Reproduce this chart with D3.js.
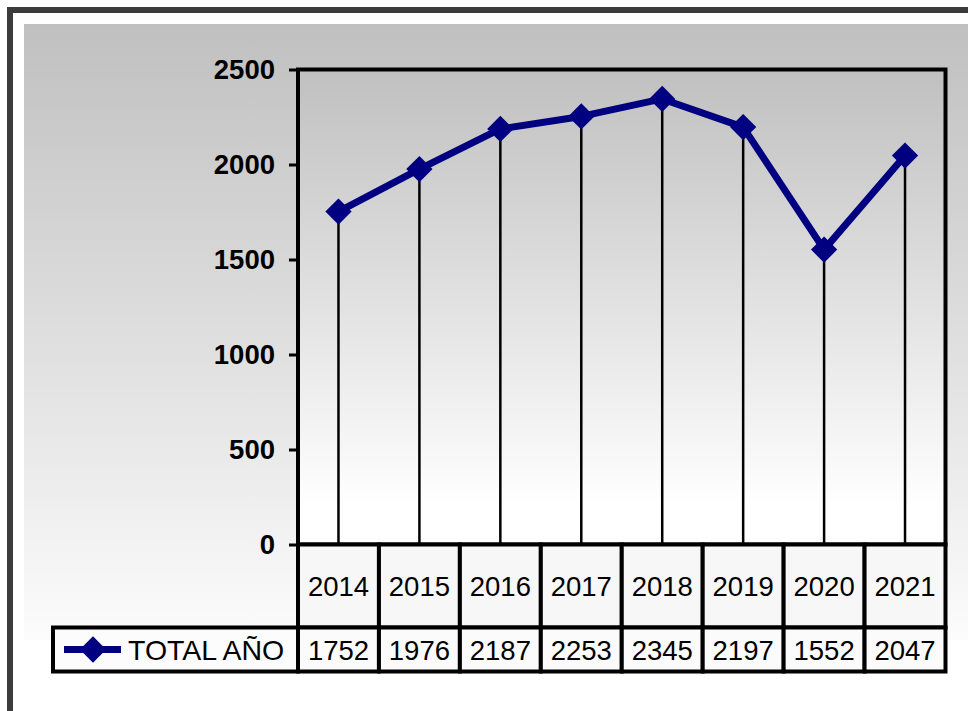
<!DOCTYPE html>
<html>
<head>
<meta charset="utf-8">
<script src="https://cdn.jsdelivr.net/npm/d3@7"></script>
<style>
  body { margin: 0; background: #fff; }
  svg { display: block; font-family: "Liberation Sans", Arial, sans-serif; }
</style>
</head>
<body>
<script>
// data
var years = ["2014", "2015", "2016", "2017", "2018", "2019", "2020", "2021"];
var totals = [1752, 1976, 2187, 2253, 2345, 2197, 1552, 2047];
var yTicks = [0, 500, 1000, 1500, 2000, 2500];
var seriesName = "TOTAL AÑO";

var W = 968, H = 711;
var plotL = 298, plotR = 945.5, plotT = 69.5, plotB = 544.5;
var rowMid = 627.5, rowEnd = 671.5, legendLeft = 53;
var fs = 27.5;

var svg = d3.select("body").append("svg").attr("width", W).attr("height", H);

var defs = svg.append("defs");
var g1 = defs.append("linearGradient").attr("id", "bg").attr("x1", 0).attr("y1", 0).attr("x2", 0).attr("y2", 1);
g1.append("stop").attr("offset", "0%").attr("stop-color", "#c0c0c0");
g1.append("stop").attr("offset", "100%").attr("stop-color", "#fcfcfc");
var g2 = defs.append("linearGradient").attr("id", "plotbg").attr("x1", 0).attr("y1", 0).attr("x2", 0).attr("y2", 1);
g2.append("stop").attr("offset", "0%").attr("stop-color", "#c0c0c0");
g2.append("stop").attr("offset", "92%").attr("stop-color", "#ffffff");

// outer background + border
svg.append("rect").attr("x", 24).attr("y", 24).attr("width", 960).attr("height", 616).attr("fill", "url(#bg)");
svg.append("rect").attr("x", 10).attr("y", 10).attr("width", 990).attr("height", 740)
  .attr("fill", "none").attr("stroke", "#3c3c3c").attr("stroke-width", 6);

// scales
var x = d3.scaleBand().domain(years).range([plotL, plotR]);
var y = d3.scaleLinear().domain([0, 2500]).range([plotB, plotT]);
var cx = function(d) { return x(d) + x.bandwidth() / 2; };

// plot area
svg.append("rect").attr("x", plotL).attr("y", plotT).attr("width", plotR - plotL).attr("height", plotB - plotT)
  .attr("fill", "url(#plotbg)");

// drop lines
svg.append("g").selectAll("line").data(years).join("line")
  .attr("x1", cx).attr("x2", cx)
  .attr("y1", function(d, i) { return y(totals[i]); }).attr("y2", plotB)
  .attr("stroke", "#000").attr("stroke-width", 2.5);

// series line
var line = d3.line().x(function(d, i) { return cx(years[i]); }).y(function(d) { return y(d); });
svg.append("path").attr("d", line(totals)).attr("fill", "none")
  .attr("stroke", "#000080").attr("stroke-width", 7).attr("stroke-linejoin", "round");

var diamond = d3.symbol().type(d3.symbolSquare).size(345);
svg.append("g").selectAll("path").data(totals).join("path")
  .attr("d", diamond)
  .attr("transform", function(d, i) { return "translate(" + cx(years[i]) + "," + y(d) + ") rotate(45)"; })
  .attr("fill", "#000080");

// frame
svg.append("rect").attr("x", plotL).attr("y", plotT).attr("width", plotR - plotL).attr("height", plotB - plotT)
  .attr("fill", "none").attr("stroke", "#000").attr("stroke-width", 4);

// y axis
var yAxis = svg.append("g").attr("transform", "translate(" + plotL + ",0)")
  .call(d3.axisLeft(y).tickValues(yTicks).tickFormat(d3.format("d")).tickSize(9).tickPadding(14));
yAxis.select(".domain").remove();
yAxis.selectAll(".tick line").attr("stroke", "#000").attr("stroke-width", 3);
yAxis.selectAll(".tick text").attr("fill", "#000").attr("font-size", fs).attr("font-weight", "bold")
  .attr("font-family", "Liberation Sans, Arial, sans-serif");

// data table
var table = svg.append("g");
table.selectAll("rect.cat").data(years).join("rect").attr("class", "cat")
  .attr("x", function(d) { return x(d); }).attr("y", plotB)
  .attr("width", x.bandwidth()).attr("height", rowMid - plotB)
  .attr("fill", "#f7f7f7").attr("stroke", "#000").attr("stroke-width", 4);
table.selectAll("rect.val").data(years).join("rect").attr("class", "val")
  .attr("x", function(d) { return x(d); }).attr("y", rowMid)
  .attr("width", x.bandwidth()).attr("height", rowEnd - rowMid)
  .attr("fill", "#fbfbfb").attr("stroke", "#000").attr("stroke-width", 4);
table.append("rect").attr("x", legendLeft).attr("y", rowMid)
  .attr("width", plotL - legendLeft).attr("height", rowEnd - rowMid)
  .attr("fill", "#fcfcfc").attr("stroke", "#000").attr("stroke-width", 4);

table.selectAll("text.cat").data(years).join("text").attr("class", "cat")
  .attr("x", cx).attr("y", (plotB + rowMid) / 2 + 10)
  .attr("text-anchor", "middle").attr("font-size", fs).text(function(d) { return d; });
table.selectAll("text.val").data(totals).join("text").attr("class", "val")
  .attr("x", function(d, i) { return cx(years[i]); }).attr("y", (rowMid + rowEnd) / 2 + 10)
  .attr("text-anchor", "middle").attr("font-size", fs).text(function(d) { return d; });

// legend key
var ly = (rowMid + rowEnd) / 2;
table.append("line").attr("x1", 64).attr("x2", 121).attr("y1", ly).attr("y2", ly)
  .attr("stroke", "#000080").attr("stroke-width", 7);
table.append("path").attr("d", diamond)
  .attr("transform", "translate(93," + ly + ") rotate(45)").attr("fill", "#000080");
table.append("text").attr("x", 128).attr("y", ly + 10).attr("font-size", 28.5).text(seriesName);
</script>
</body>
</html>
